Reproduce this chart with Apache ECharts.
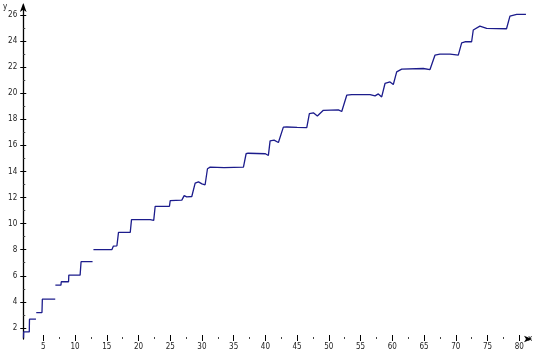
<!DOCTYPE html>
<html><head><meta charset="utf-8">
<script src="https://cdn.jsdelivr.net/npm/echarts@6/dist/echarts.min.js"></script>
<style>html,body{margin:0;padding:0;background:#fff}#c{width:540px;height:360px}</style>
</head><body><div id="c"></div>
<script>
// curve sample points (null y = break in the curve)
const xValues = [1.88,1.90,2.79,2.82,3.84,3.86,3.89,4.79,4.85,6.88,6.89,6.90,7.78,7.83,8.98,9.02,10.8,10.95,12.76,12.83,
  12.9,15.8,16.05,16.3,16.6,16.85,18.7,18.9,21.84,22.1,22.4,22.63,24.88,25.0,26.83,27.2,27.6,27.87,28.4,28.93,
  29.45,30.0,30.5,30.87,31.29,33.5,36.54,36.7,36.96,37.28,40.0,40.47,40.74,41.37,42.05,42.3,42.83,43.37,45.0,46.52,
  46.93,47.56,48.19,49.13,51.5,52.03,52.3,52.82,53.61,56.5,56.76,57.28,57.8,58.33,58.85,59.64,60.16,60.69,61.48,64.88,
  65.15,65.94,66.72,67.5,69.1,69.36,70.4,70.93,71.45,72.5,72.76,73.8,74.87,78.0,78.2,78.54,79.6,81.06];
const yValues = [1.25,1.69,1.69,2.67,2.67,null,3.18,3.18,4.21,4.21,null,5.28,5.28,5.54,5.54,6.05,6.05,7.08,7.08,null,
  8.0,8.0,8.28,8.18,8.3,9.33,9.33,10.31,10.31,10.22,10.25,11.33,11.33,11.77,11.8,12.15,12.05,12.18,12.08,13.1,
  13.2,13.05,12.98,14.21,14.33,14.3,14.33,14.25,15.36,15.4,15.36,15.23,16.35,16.4,16.22,16.25,17.4,17.41,17.38,17.36,
  18.44,18.5,18.25,18.69,18.72,18.6,18.75,19.85,19.9,19.9,19.95,19.8,19.95,19.72,20.75,20.87,20.67,21.64,21.85,21.9,
  22.02,21.82,22.92,23.0,23.0,23.1,22.92,23.87,23.95,23.95,24.85,25.15,24.98,24.95,24.9,25.92,26.05,26.05];
const xTickLabels = [5,10,15,20,25,30,35,40,45,50,55,60,65,70,75,80];
const xMinorTicks = [7.5,12.5,17.5,22.5,27.5,32.5,37.5,42.5,47.5,52.5,57.5,62.5,67.5,72.5,77.5];
const yTickLabels = [2,4,6,8,10,12,14,16,18,20,22,24,26];
const yMinorTicks = [3,5,7,9,11,13,15,17,19,21,23,25];

const X_MIN = 1.84, X_MAX = 81.7, Y_MIN = 1.15, Y_MAX = 26.77;
const FONT = "'DejaVu Sans Condensed','Liberation Sans Narrow',sans-serif";
const data = xValues.map((x, i) => [x, yValues[i] === null ? '-' : yValues[i]]);

const chart = echarts.init(document.getElementById('c'), null, {renderer: 'canvas'});
const baseX = {type: 'value', min: X_MIN, max: X_MAX, position: 'bottom', splitLine: {show: false}};
const baseY = {type: 'value', min: Y_MIN, max: Y_MAX, position: 'left', splitLine: {show: false}};
chart.setOption({
  animation: false,
  backgroundColor: '#fff',
  grid: {left: 23, top: 5, width: 507, height: 334, containLabel: false},
  xAxis: [
    Object.assign({}, baseX, {
      name: 'x', nameLocation: 'end', nameGap: -2,
      nameTextStyle: {fontFamily: FONT, fontSize: 8, color: '#222', padding: [22, 0, 0, 0], align: 'left'},
      axisLine: {show: true, symbol: ['none', 'arrow'], symbolSize: [5, 8], symbolOffset: [0, 2], lineStyle: {color: '#000', width: 0}},
      axisTick: {show: true, inside: true, length: 4, customValues: xTickLabels, lineStyle: {color: '#000', width: 1}},
      axisLabel: {show: true, customValues: xTickLabels, margin: 4, fontFamily: FONT, fontSize: 8, color: '#222'}
    }),
    Object.assign({}, baseX, {
      axisLine: {show: false},
      axisTick: {show: true, inside: false, length: 2, customValues: xTickLabels, lineStyle: {color: '#000'}},
      axisLabel: {show: false}
    }),
    Object.assign({}, baseX, {
      axisLine: {show: false},
      axisTick: {show: true, inside: true, length: 2, customValues: xMinorTicks, lineStyle: {color: '#444'}},
      axisLabel: {show: false}
    })
  ],
  yAxis: [
    Object.assign({}, baseY, {
      name: 'y', nameLocation: 'end', nameGap: 0,
      nameTextStyle: {fontFamily: FONT, fontSize: 8, color: '#222', align: 'right', padding: [0, 16, -12, 0]},
      axisLine: {show: true, symbol: ['none', 'arrow'], symbolSize: [5, 9], symbolOffset: [0, 2], lineStyle: {color: '#000', width: 1.3}},
      axisTick: {show: true, inside: false, length: 3, customValues: yTickLabels, lineStyle: {color: '#000'}},
      axisLabel: {show: true, customValues: yTickLabels, margin: 6, fontFamily: FONT, fontSize: 8, color: '#222'}
    }),
    Object.assign({}, baseY, {
      axisLine: {show: false},
      axisTick: {show: true, inside: true, length: 3, customValues: yTickLabels, lineStyle: {color: '#000'}},
      axisLabel: {show: false}
    }),
    Object.assign({}, baseY, {
      axisLine: {show: false},
      axisTick: {show: true, inside: true, length: 2, customValues: yMinorTicks, lineStyle: {color: '#444'}},
      axisLabel: {show: false}
    })
  ],
  series: [{
    type: 'line', xAxisIndex: 0, yAxisIndex: 0, data: data,
    showSymbol: false, connectNulls: false,
    lineStyle: {color: '#1c1c8c', width: 1.3}
  }]
});
</script>
</body></html>
